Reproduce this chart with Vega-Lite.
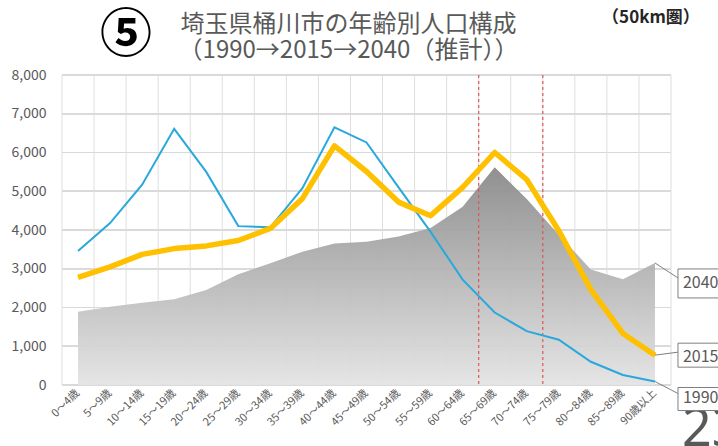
{
  "$schema": "https://vega.github.io/schema/vega-lite/v6.json",
  "width": 609,
  "height": 310,
  "autosize": {"type": "none"},
  "padding": {"left": 62, "top": 75, "right": 47, "bottom": 61},
  "background": "white",
  "config": {
    "font": "Noto Sans CJK JP",
    "view": {"stroke": null},
    "numberFormat": ",",
    "axisY": {"grid": false, "ticks": false, "domain": false, "labelFontSize": 14, "labelColor": "#595959", "labelPadding": 16, "tickCount": 8, "title": null},
    "axisX": {"grid": false, "ticks": false, "domain": false, "labelAngle": -45, "labelAlign": "right", "labelBaseline": "middle", "labelFontSize": 11, "labelColor": "#595959", "labelPadding": 6, "title": null}
  },
  "title": {
    "text": "埼玉県桶川市の年齢別人口構成",
    "subtitle": "（1990→2015→2040（推計））",
    "frame": "group",
    "anchor": "middle",
    "dx": -18,
    "offset": -54,
    "fontSize": 24,
    "fontWeight": "normal",
    "color": "#595959",
    "subtitleFontSize": 24,
    "subtitleColor": "#595959",
    "subtitleFont": "Noto Sans CJK JP",
    "subtitlePadding": 2
  },
  "data": {"values": [
    {"age": "0～4歳", "year": "1990", "pop": 3460},
    {"age": "5～9歳", "year": "1990", "pop": 4180},
    {"age": "10～14歳", "year": "1990", "pop": 5170},
    {"age": "15～19歳", "year": "1990", "pop": 6610},
    {"age": "20～24歳", "year": "1990", "pop": 5500},
    {"age": "25～29歳", "year": "1990", "pop": 4100},
    {"age": "30～34歳", "year": "1990", "pop": 4070},
    {"age": "35～39歳", "year": "1990", "pop": 5080},
    {"age": "40～44歳", "year": "1990", "pop": 6650},
    {"age": "45～49歳", "year": "1990", "pop": 6260},
    {"age": "50～54歳", "year": "1990", "pop": 5100},
    {"age": "55～59歳", "year": "1990", "pop": 3950},
    {"age": "60～64歳", "year": "1990", "pop": 2720},
    {"age": "65～69歳", "year": "1990", "pop": 1870},
    {"age": "70～74歳", "year": "1990", "pop": 1390},
    {"age": "75～79歳", "year": "1990", "pop": 1170},
    {"age": "80～84歳", "year": "1990", "pop": 600},
    {"age": "85～89歳", "year": "1990", "pop": 260},
    {"age": "90歳以上", "year": "1990", "pop": 90},
    {"age": "0～4歳", "year": "2015", "pop": 2780},
    {"age": "5～9歳", "year": "2015", "pop": 3050},
    {"age": "10～14歳", "year": "2015", "pop": 3370},
    {"age": "15～19歳", "year": "2015", "pop": 3520},
    {"age": "20～24歳", "year": "2015", "pop": 3590},
    {"age": "25～29歳", "year": "2015", "pop": 3730},
    {"age": "30～34歳", "year": "2015", "pop": 4040},
    {"age": "35～39歳", "year": "2015", "pop": 4810},
    {"age": "40～44歳", "year": "2015", "pop": 6170},
    {"age": "45～49歳", "year": "2015", "pop": 5510},
    {"age": "50～54歳", "year": "2015", "pop": 4720},
    {"age": "55～59歳", "year": "2015", "pop": 4370},
    {"age": "60～64歳", "year": "2015", "pop": 5100},
    {"age": "65～69歳", "year": "2015", "pop": 6000},
    {"age": "70～74歳", "year": "2015", "pop": 5300},
    {"age": "75～79歳", "year": "2015", "pop": 3980},
    {"age": "80～84歳", "year": "2015", "pop": 2460},
    {"age": "85～89歳", "year": "2015", "pop": 1330},
    {"age": "90歳以上", "year": "2015", "pop": 770},
    {"age": "0～4歳", "year": "2040", "pop": 1890},
    {"age": "5～9歳", "year": "2040", "pop": 2020},
    {"age": "10～14歳", "year": "2040", "pop": 2120},
    {"age": "15～19歳", "year": "2040", "pop": 2210},
    {"age": "20～24歳", "year": "2040", "pop": 2450},
    {"age": "25～29歳", "year": "2040", "pop": 2860},
    {"age": "30～34歳", "year": "2040", "pop": 3140},
    {"age": "35～39歳", "year": "2040", "pop": 3440},
    {"age": "40～44歳", "year": "2040", "pop": 3650},
    {"age": "45～49歳", "year": "2040", "pop": 3700},
    {"age": "50～54歳", "year": "2040", "pop": 3830},
    {"age": "55～59歳", "year": "2040", "pop": 4050},
    {"age": "60～64歳", "year": "2040", "pop": 4600},
    {"age": "65～69歳", "year": "2040", "pop": 5620},
    {"age": "70～74歳", "year": "2040", "pop": 4800},
    {"age": "75～79歳", "year": "2040", "pop": 3880},
    {"age": "80～84歳", "year": "2040", "pop": 2980},
    {"age": "85～89歳", "year": "2040", "pop": 2730},
    {"age": "90歳以上", "year": "2040", "pop": 3150}
  ]},
  "resolve": {"scale": {"y": "independent"}, "axis": {"y": "independent"}},
  "layer": [
    {
      "layer": [
        {"mark": {"type": "rule", "color": "#d9d9d9", "strokeWidth": 1}, "encoding": {"y": {"datum": 0, "type": "quantitative", "scale": {"domain": [0, 8000], "nice": false}, "axis": null}}},
        {"mark": {"type": "rule", "color": "#d9d9d9", "strokeWidth": 1}, "encoding": {"y": {"datum": 1000, "type": "quantitative", "scale": {"domain": [0, 8000], "nice": false}, "axis": null}}},
        {"mark": {"type": "rule", "color": "#d9d9d9", "strokeWidth": 1}, "encoding": {"y": {"datum": 2000, "type": "quantitative", "scale": {"domain": [0, 8000], "nice": false}, "axis": null}}},
        {"mark": {"type": "rule", "color": "#d9d9d9", "strokeWidth": 1}, "encoding": {"y": {"datum": 3000, "type": "quantitative", "scale": {"domain": [0, 8000], "nice": false}, "axis": null}}},
        {"mark": {"type": "rule", "color": "#d9d9d9", "strokeWidth": 1}, "encoding": {"y": {"datum": 4000, "type": "quantitative", "scale": {"domain": [0, 8000], "nice": false}, "axis": null}}},
        {"mark": {"type": "rule", "color": "#d9d9d9", "strokeWidth": 1}, "encoding": {"y": {"datum": 5000, "type": "quantitative", "scale": {"domain": [0, 8000], "nice": false}, "axis": null}}},
        {"mark": {"type": "rule", "color": "#d9d9d9", "strokeWidth": 1}, "encoding": {"y": {"datum": 6000, "type": "quantitative", "scale": {"domain": [0, 8000], "nice": false}, "axis": null}}},
        {"mark": {"type": "rule", "color": "#d9d9d9", "strokeWidth": 1}, "encoding": {"y": {"datum": 7000, "type": "quantitative", "scale": {"domain": [0, 8000], "nice": false}, "axis": null}}},
        {"mark": {"type": "rule", "color": "#d9d9d9", "strokeWidth": 1}, "encoding": {"y": {"datum": 8000, "type": "quantitative", "scale": {"domain": [0, 8000], "nice": false}, "axis": null}}},
        {
          "transform": [{"filter": "datum.age === '5～9歳' && datum.year === '2040'"}],
          "mark": {"type": "text", "text": "⑤", "align": "center", "baseline": "middle", "dx": 16, "dy": -39, "fontSize": 52, "fontWeight": "bold", "color": "#000000"},
          "encoding": {
            "x": {"field": "age", "type": "nominal", "sort": null, "title": null, "scale": {"type": "band", "paddingInner": 0, "paddingOuter": 0, "domain": ["0～4歳", "5～9歳", "10～14歳", "15～19歳", "20～24歳", "25～29歳", "30～34歳", "35～39歳", "40～44歳", "45～49歳", "50～54歳", "55～59歳", "60～64歳", "65～69歳", "70～74歳", "75～79歳", "80～84歳", "85～89歳", "90歳以上"]}},
            "y": {"datum": 8000, "type": "quantitative", "scale": {"domain": [0, 8000], "nice": false}, "axis": null}
          }
        },
        {
          "transform": [{"filter": "datum.age === '90歳以上' && datum.year === '2040'"}],
          "mark": {"type": "text", "text": "（50km圏）", "align": "center", "baseline": "middle", "dx": -4, "dy": -57, "fontSize": 17, "fontWeight": "bold", "color": "#262626"},
          "encoding": {
            "x": {"field": "age", "type": "nominal", "sort": null, "title": null},
            "y": {"datum": 8000, "type": "quantitative", "scale": {"domain": [0, 8000], "nice": false}, "axis": null}
          }
        },
        {
          "transform": [{"filter": "datum.age === '90歳以上' && datum.year === '2040'"}],
          "mark": {"type": "text", "text": "23", "align": "left", "baseline": "alphabetic", "dx": 27, "dy": 61, "fontSize": 52, "font": "Noto Sans", "color": "#595959"},
          "encoding": {
            "x": {"field": "age", "type": "nominal", "sort": null, "title": null},
            "y": {"datum": 0, "type": "quantitative", "scale": {"domain": [0, 8000], "nice": false}, "axis": null}
          }
        }
      ]
    },
    {
      "layer": [
        {
          "transform": [{"filter": "datum.year === '2040'"}],
          "mark": {"type": "rule", "color": "#dedede", "strokeWidth": 1},
          "encoding": {
            "x": {"field": "age", "type": "nominal", "sort": null, "title": null, "bandPosition": 0, "scale": {"type": "band", "paddingInner": 0, "paddingOuter": 0, "domain": ["0～4歳", "5～9歳", "10～14歳", "15～19歳", "20～24歳", "25～29歳", "30～34歳", "35～39歳", "40～44歳", "45～49歳", "50～54歳", "55～59歳", "60～64歳", "65～69歳", "70～74歳", "75～79歳", "80～84歳", "85～89歳", "90歳以上"]}}
          }
        },
        {
          "transform": [{"filter": "datum.year === '2040' && datum.age === '90歳以上'"}],
          "mark": {"type": "rule", "color": "#dedede", "strokeWidth": 1},
          "encoding": {
            "x": {"field": "age", "type": "nominal", "sort": null, "title": null, "bandPosition": 1}
          }
        },
        {
          "transform": [{"filter": "datum.year === '2040'"}],
          "mark": {"type": "area", "opacity": 0.95, "color": {"gradient": "linear", "x1": 0, "y1": 0, "x2": 0, "y2": 1, "stops": [{"offset": 0, "color": "#8a8a8a"}, {"offset": 1, "color": "#e4e4e4"}]}},
          "encoding": {
            "x": {"field": "age", "type": "nominal", "sort": null, "title": null},
            "y": {"field": "pop", "type": "quantitative", "title": null, "scale": {"domain": [0, 8000], "nice": false}, "axis": {"labelExpr": "format(datum.value, ',')", "tickCount": 8}}
          }
        },
        {
          "transform": [{"filter": "datum.year === '2040' && (datum.age === '65～69歳' || datum.age === '75～79歳')"}],
          "mark": {"type": "rule", "color": "#e05555", "strokeWidth": 1.2, "strokeDash": [3, 3]},
          "encoding": {
            "x": {"field": "age", "type": "nominal", "sort": null, "title": null, "bandPosition": 0}
          }
        },
        {
          "transform": [{"filter": "datum.year === '1990'"}],
          "mark": {"type": "line", "color": "#29a8dc", "strokeWidth": 2},
          "encoding": {
            "x": {"field": "age", "type": "nominal", "sort": null, "title": null},
            "y": {"field": "pop", "type": "quantitative", "title": null}
          }
        },
        {
          "transform": [{"filter": "datum.year === '2015'"}],
          "mark": {"type": "line", "color": "#ffc000", "strokeWidth": 5.5, "strokeJoin": "round"},
          "encoding": {
            "x": {"field": "age", "type": "nominal", "sort": null, "title": null},
            "y": {"field": "pop", "type": "quantitative", "title": null}
          }
        },
        {
          "transform": [{"filter": "datum.age === '90歳以上'"}],
          "mark": {"type": "point", "filled": true, "fill": "white", "stroke": "#7f7f7f", "strokeWidth": 1, "opacity": 1, "size": 4},
          "encoding": {
            "x": {"field": "age", "type": "nominal", "sort": null, "title": null},
            "y": {"field": "pop", "type": "quantitative", "title": null},
            "shape": {"field": "year", "type": "nominal", "legend": null, "scale": {"domain": ["1990", "2015", "2040"], "range": ["M0,0L23,12M23,6H110V29H23Z", "M0,0L23,-3M23,-12H110V12H23Z", "M0,0L23,15M23,6H110V35H23Z"]}}
          }
        },
        {
          "transform": [{"filter": "datum.age === '90歳以上' && datum.year === '2040'"}],
          "mark": {"type": "text", "align": "left", "baseline": "middle", "dx": 28, "dy": 20, "fontSize": 16, "color": "#595959"},
          "encoding": {
            "x": {"field": "age", "type": "nominal", "sort": null, "title": null},
            "y": {"field": "pop", "type": "quantitative", "title": null},
            "text": {"field": "year"}
          }
        },
        {
          "transform": [{"filter": "datum.age === '90歳以上' && datum.year === '2015'"}],
          "mark": {"type": "text", "align": "left", "baseline": "middle", "dx": 28, "dy": 2, "fontSize": 16, "color": "#595959"},
          "encoding": {
            "x": {"field": "age", "type": "nominal", "sort": null, "title": null},
            "y": {"field": "pop", "type": "quantitative", "title": null},
            "text": {"field": "year"}
          }
        },
        {
          "transform": [{"filter": "datum.age === '90歳以上' && datum.year === '1990'"}],
          "mark": {"type": "text", "align": "left", "baseline": "middle", "dx": 28, "dy": 16, "fontSize": 16, "color": "#595959"},
          "encoding": {
            "x": {"field": "age", "type": "nominal", "sort": null, "title": null},
            "y": {"field": "pop", "type": "quantitative", "title": null},
            "text": {"field": "year"}
          }
        }
      ]
    }
  ]
}
